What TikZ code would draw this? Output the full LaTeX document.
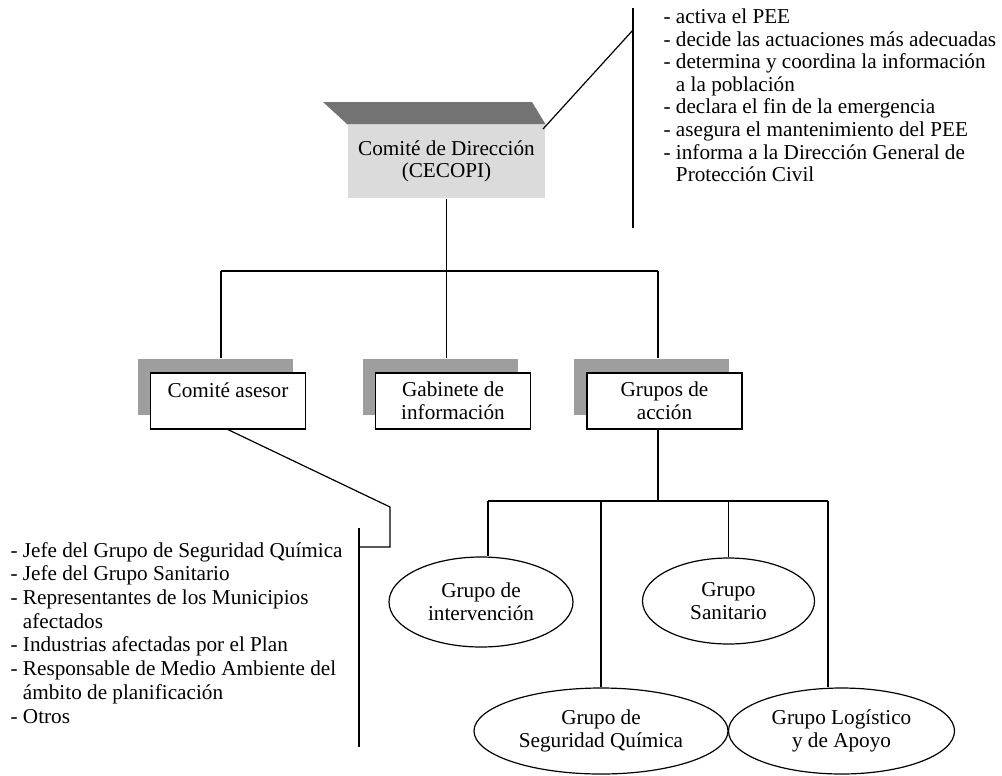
\documentclass[tikz,border=0pt]{standalone}
\usepackage{fontspec}
\setmainfont{Liberation Serif}
\usetikzlibrary{shapes.geometric}
\definecolor{bandgray}{gray}{0.45}
\definecolor{shadegray}{gray}{0.62}
\definecolor{panelgray}{gray}{0.86}
\begin{document}
\begin{tikzpicture}[x=0.75pt,y=-0.75pt,line width=0.9pt,
  every node/.style={font=\fontsize{15.9}{16.9}\selectfont},
  orgbox/.style={draw=black,fill=white,rectangle,align=center,inner sep=0pt,
    minimum width=116.25pt,minimum height=42pt},
  orgshade/.style={fill=shadegray,rectangle,inner sep=0pt,
    minimum width=116.25pt,minimum height=42pt},
  grp/.style={draw=black,fill=white,ellipse,align=center,inner sep=0pt},
  notes/.style={align=left,anchor=north west,inner sep=0pt}]
\useasboundingbox (0,0) rectangle (1002,775);

% --- head committee: shaded panel with a dark bevel on top
\node[fill=panelgray,rectangle,align=center,inner sep=0pt,
  minimum width=147.75pt,minimum height=54.75pt] (cecopi) at (446.5,161.5)
  {Comité de Dirección\\(CECOPI)};
\fill[bandgray] (323,102) -- (532,102) -- (cecopi.north east) -- (cecopi.north west) -- cycle;

% --- duties of the committee
\coordinate (dtop) at (633,8);
\coordinate (dbot) at (633,228);
\coordinate (dtick) at (633,30);
\coordinate (cfoot) at (543,129);
\draw (dtop) -- (dbot);
\draw (cfoot) -- (dtick);
\node[notes,font=\fontsize{15.9}{16.9}\selectfont] (duties) at (663,8.5)
  {- activa el PEE\\
   - decide las actuaciones más adecuadas\\
   - determina y coordina la información\\
   \phantom{- }a la población\\
   - declara el fin de la emergencia\\
   - asegura el mantenimiento del PEE\\
   - informa a la Dirección General de\\
   \phantom{- }Protección Civil};

% --- second level boxes with their shadows
\node[orgshade] (cass) at (215,387) {};
\node[orgshade] (gabs) at (440,387) {};
\node[orgshade] (grps) at (651.5,387) {};
\node[orgbox] (cas) at (228,401) {Comité asesor\\\mbox{}};
\node[orgbox] (gab) at (453,401) {Gabinete de\\información};
\node[orgbox] (grp) at (664.5,401) {Grupos de\\acción};

% --- tree from the head committee
\coordinate (j1) at (221,271);
\coordinate (j2) at (446.5,271);
\coordinate (j3) at (658,271);
\draw (cecopi.south) -- (j2);
\draw (j1) -- (j3);
\draw (j1) -- (j1 |- cass.north);
\draw (j2) -- (j2 |- gabs.north);
\draw (j3) -- (j3 |- grps.north);

% --- members of the advisory committee
\coordinate (k1) at (390,507);
\coordinate (k2) at (390,547);
\coordinate (k3) at (359,547);
\coordinate (mtop) at (359,528);
\coordinate (mbot) at (359,747);
\draw (cas.south) -- (k1) -- (k2) -- (k3);
\draw (mtop) -- (mbot);
\node[notes,font=\fontsize{15.9}{17.8}\selectfont] (members) at (10,541.5)
  {- Jefe del Grupo de Seguridad Química\\
   - Jefe del Grupo Sanitario\\
   - Representantes de los Municipios\\
   \phantom{- }afectados\\
   - Industrias afectadas por el Plan\\
   - Responsable de Medio Ambiente del\\
   \phantom{- }ámbito de planificación\\
   - Otros};

% --- action groups
\node[grp,minimum width=138pt,minimum height=67.5pt] (gint) at (481,602) {Grupo de\\intervención};
\node[grp,minimum width=129pt,minimum height=64.5pt] (gsan) at (728.5,601) {Grupo\\Sanitario};
\node[grp,minimum width=190.5pt,minimum height=64.5pt] (gseg) at (601,731) {Grupo de\\Seguridad Química};
\node[grp,minimum width=169.5pt,minimum height=64.5pt] (glog) at (841.5,731) {Grupo Logístico\\y de Apoyo};

\coordinate (g0) at (658,501);
\coordinate (g1) at (488,501);
\coordinate (g2) at (601,501);
\coordinate (g3) at (728.5,501);
\coordinate (g4) at (828,501);
\draw (grp.south -| g0) -- (g0);
\draw (g1) -- (g4);
\draw (g1) -- (g1 |- gint.north);
\draw (g2) -- (g2 |- gseg.north);
\draw (g3) -- (g3 |- gsan.north);
\draw (g4) -- (g4 |- glog.north);
\end{tikzpicture}
\end{document}
